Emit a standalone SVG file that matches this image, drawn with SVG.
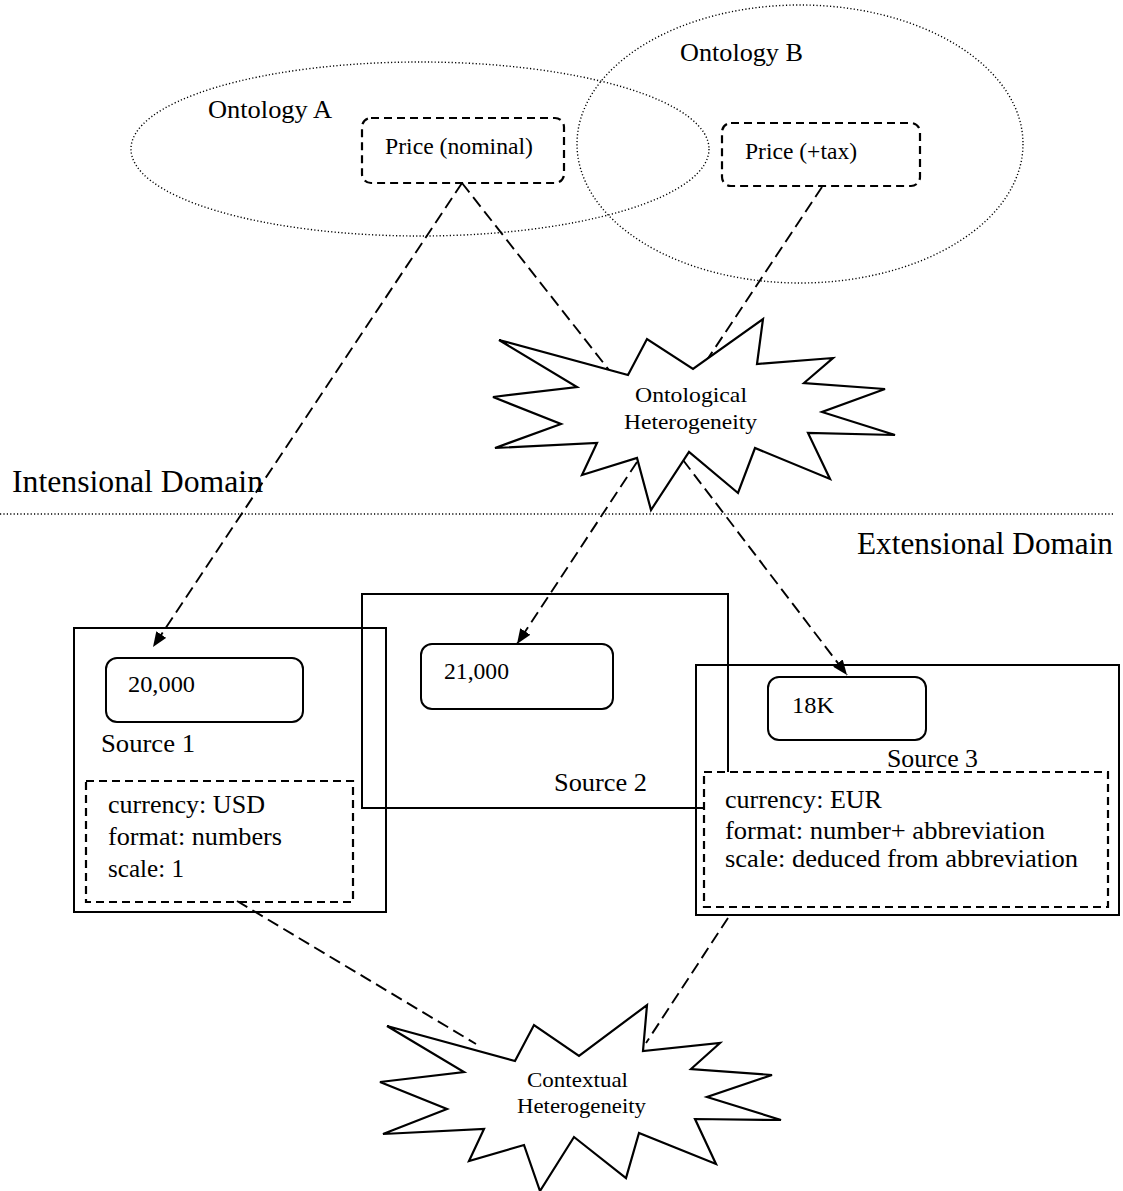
<svg xmlns="http://www.w3.org/2000/svg" width="1123" height="1191" viewBox="0 0 1123 1191">
<defs>
<style>
text{font-family:"Liberation Serif","Times New Roman",serif;fill:#000}
.dot{fill:none;stroke:#000;stroke-width:1.4;stroke-dasharray:1.2,2.2}
.solid{fill:none;stroke:#000;stroke-width:2}
.dbox{fill:none;stroke:#000;stroke-width:2.2;stroke-dasharray:8,5}
.wbox{fill:#fff;stroke:#000;stroke-width:2.2;stroke-dasharray:8,5}
.conn{fill:none;stroke:#000;stroke-width:1.9;stroke-dasharray:12,6}
.star{fill:#fff;stroke:#000;stroke-width:2.2;stroke-linejoin:miter}
</style>
<marker id="arr" markerUnits="userSpaceOnUse" markerWidth="16" markerHeight="12" refX="15" refY="6" orient="auto">
<path d="M0,0 L15,6 L0,12 z" fill="#000"/>
</marker>
</defs>
<rect width="1123" height="1191" fill="#fff"/>

<g id="ontologyA">
<ellipse class="dot" cx="420" cy="149" rx="289" ry="87"/>
<text x="208" y="118" font-size="26" textLength="124" lengthAdjust="spacingAndGlyphs">Ontology A</text>
</g>
<g id="ontologyB">
<ellipse class="dot" cx="800" cy="144" rx="223" ry="139"/>
<text x="680" y="61" font-size="26" textLength="123" lengthAdjust="spacingAndGlyphs">Ontology B</text>
</g>
<g id="priceNominal">
<rect class="dbox" x="362" y="118" width="202" height="65" rx="9"/>
<text x="385" y="154" font-size="23" textLength="148" lengthAdjust="spacingAndGlyphs">Price (nominal)</text>
</g>
<g id="priceTax">
<rect class="dbox" x="722" y="123" width="198" height="63" rx="9"/>
<text x="745" y="159" font-size="23" textLength="112" lengthAdjust="spacingAndGlyphs">Price (+tax)</text>
</g>

<g id="domainDivider">
<line class="dot" x1="0" y1="514" x2="1114" y2="514"/>
<text x="12" y="492" font-size="31" textLength="251" lengthAdjust="spacingAndGlyphs">Intensional Domain</text>
<text x="857" y="554" font-size="31" textLength="256" lengthAdjust="spacingAndGlyphs">Extensional Domain</text>
</g>

<g id="source1">
<rect class="solid" x="74" y="628" width="312" height="284"/>
<rect class="solid" x="106" y="658" width="197" height="64" rx="11"/>
<text x="128" y="692" font-size="23" textLength="67" lengthAdjust="spacingAndGlyphs">20,000</text>
<text x="101" y="752" font-size="25" textLength="94" lengthAdjust="spacingAndGlyphs">Source 1</text>
<rect class="dbox" x="86" y="781" width="267" height="121"/>
<text x="108" y="813" font-size="25" textLength="157" lengthAdjust="spacingAndGlyphs">currency: USD</text>
<text x="108" y="845" font-size="25" textLength="174" lengthAdjust="spacingAndGlyphs">format: numbers</text>
<text x="108" y="877" font-size="25" textLength="76" lengthAdjust="spacingAndGlyphs">scale: 1</text>
</g>

<g id="source2">
<rect class="solid" x="362" y="594" width="366" height="214"/>
<rect class="solid" x="421" y="644" width="192" height="65" rx="11"/>
<text x="444" y="679" font-size="23" textLength="65" lengthAdjust="spacingAndGlyphs">21,000</text>
<text x="554" y="791" font-size="25" textLength="93" lengthAdjust="spacingAndGlyphs">Source 2</text>
</g>

<g id="source3">
<rect class="solid" x="696" y="665" width="423" height="250"/>
<rect class="solid" x="768" y="677" width="158" height="63" rx="11"/>
<text x="792" y="713" font-size="23" textLength="42" lengthAdjust="spacingAndGlyphs">18K</text>
<text x="887" y="767" font-size="25" textLength="91" lengthAdjust="spacingAndGlyphs">Source 3</text>
<rect class="wbox" x="704" y="772" width="404" height="135"/>
<text x="725" y="808" font-size="25" textLength="157" lengthAdjust="spacingAndGlyphs">currency: EUR</text>
<text x="725" y="839" font-size="25" textLength="320" lengthAdjust="spacingAndGlyphs">format: number+ abbreviation</text>
<text x="725" y="867" font-size="25" textLength="353" lengthAdjust="spacingAndGlyphs">scale: deduced from abbreviation</text>
</g>

<g id="connectors">
<line class="conn" x1="462" y1="183" x2="153" y2="647" marker-end="url(#arr)"/>
<line class="conn" x1="462" y1="183" x2="609" y2="370"/>
<line class="conn" x1="822" y1="187" x2="703" y2="366"/>
<line class="conn" x1="637" y1="462" x2="517" y2="644" marker-end="url(#arr)"/>
<line class="conn" x1="683" y1="460" x2="847" y2="675" marker-end="url(#arr)"/>
<line class="conn" x1="237" y1="901" x2="476" y2="1044"/>
<line class="conn" x1="728" y1="918" x2="646" y2="1043"/>
</g>

<g id="ontologicalHeterogeneity">
<polygon class="star" points="499,340 628,375 647,339 693,369 763,319 757,364 833,358 804,383 885,389 822,412 895,435 808,433 830,479 755,448 738,493 689,452 651,510 637,458 582,475 597,443 495,448 561,424 493,397 577,387"/>
<text x="635" y="402" font-size="22" textLength="112" lengthAdjust="spacingAndGlyphs">Ontological</text>
<text x="624" y="429" font-size="22" textLength="133" lengthAdjust="spacingAndGlyphs">Heterogeneity</text>
</g>

<g id="contextualHeterogeneity">
<polygon class="star" points="387,1026 515,1061 534,1025 579,1056 647,1005 643,1051 720,1043 691,1069 772,1075 707,1097 781,1120 695,1119 716,1164 639,1133 626,1178 574,1137 540,1191 524,1145 469,1161 484,1129 383,1134 447,1109 380,1082 464,1072"/>
<text x="527" y="1087" font-size="22" textLength="101" lengthAdjust="spacingAndGlyphs">Contextual</text>
<text x="517" y="1113" font-size="22" textLength="129" lengthAdjust="spacingAndGlyphs">Heterogeneity</text>
</g>
</svg>
